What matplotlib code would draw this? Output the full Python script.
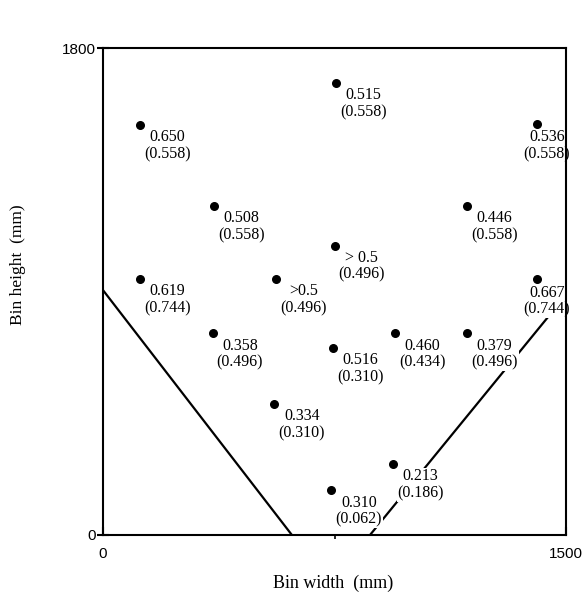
import matplotlib.pyplot as plt
import numpy as np

# bin width (mm), bin height (mm), value, value in brackets
width = [120, 360, 120, 355, 560, 555, 755, 750, 745, 740, 945, 940, 1180, 1180, 1405, 1405]
height = [1515, 1215, 945, 745, 945, 485, 1670, 1070, 690, 165, 745, 262, 1215, 745, 1520, 945]
top_lbl = ["0.650", "0.508", "0.619", "0.358", ">0.5", "0.334", "0.515", "> 0.5",
           "0.516", "0.310", "0.460", "0.213", "0.446", "0.379", "0.536", "0.667"]
low_lbl = ["(0.558)", "(0.558)", "(0.744)", "(0.496)", "(0.496)", "(0.310)", "(0.558)", "(0.496)",
           "(0.310)", "(0.062)", "(0.434)", "(0.186)", "(0.558)", "(0.496)", "(0.558)", "(0.744)"]

# boundary lines
left_x = [0, 612]
left_y = [905, 0]
right_x = [865, 1500]
right_y = [0, 887]

fig = plt.figure(figsize=(5.82, 5.99), dpi=100)
ax = fig.add_axes([103/582, 64/599, 463/582, 487/599])

ax.plot(left_x, left_y, color='black', lw=1.6, zorder=1)
ax.plot(right_x, right_y, color='black', lw=1.6, zorder=1)
ax.scatter(width, height, s=30, color='black', zorder=3)

for x, y, a, b in zip(width, height, top_lbl, low_lbl):
    if x > 1350:
        # labels next to the right edge are pushed inside the frame
        pos, off, ha = (1500, y), (3, -4), 'right'
    else:
        pos, off, ha = (x, y), (3, -3), 'left'
    ax.annotate(a + "\n" + b, pos, xytext=off, textcoords='offset points',
                ha=ha, va='top', multialignment='center', linespacing=1.08,
                family='Liberation Serif', fontsize=11.5, zorder=2,
                annotation_clip=False,
                bbox=dict(facecolor='white', edgecolor='none', pad=0.5))

ax.set_xlim(0, 1500)
ax.set_ylim(0, 1800)
ax.set_xticks([0, 1500])
ax.set_yticks([0, 1800])
ax.set_xticks([750], minor=True)
ax.tick_params(axis='x', which='major', direction='in', length=6, width=1.5, pad=9)
ax.tick_params(axis='x', which='minor', direction='out', length=3, width=1.2)
ax.tick_params(axis='y', direction='inout', length=8, width=1.5, pad=1)
ax.tick_params(labelsize=11, labelfontfamily='Liberation Sans')
for s in ax.spines.values():
    s.set_linewidth(1.5)
    s.set_zorder(4)

fig.text(333/582, 1 - 583/599, "Bin width  (mm)", family='Liberation Serif',
         fontsize=13, ha='center', va='center')
fig.text(18/582, 1 - 265/599, "Bin height  (mm)", family='Liberation Serif',
         fontsize=12.5, ha='center', va='center', rotation=90)

fig.savefig("out.png", dpi=100)
